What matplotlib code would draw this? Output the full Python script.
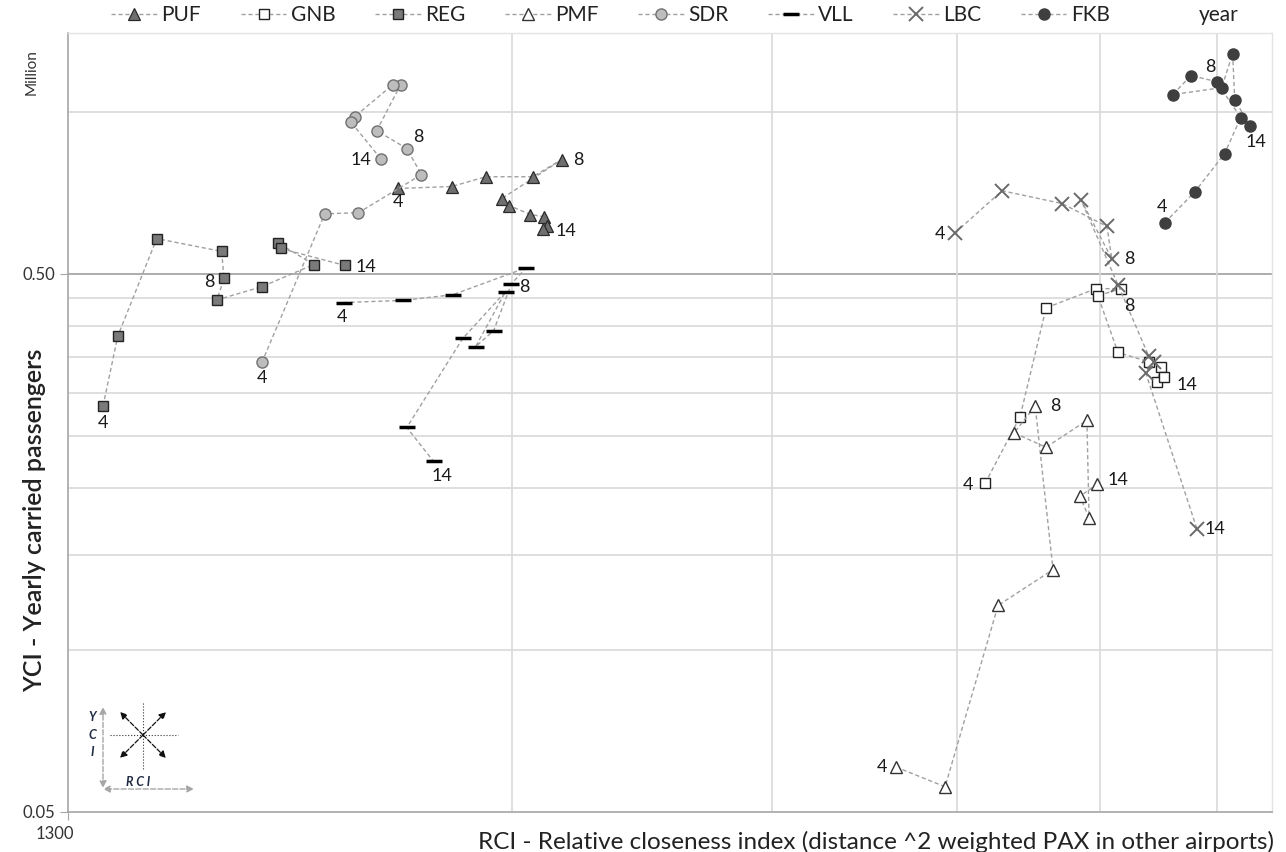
import numpy as np
import matplotlib.pyplot as plt
from matplotlib.ticker import FixedLocator, NullFormatter

plt.rcParams['font.family'] = ['Lato', 'DejaVu Sans']

years = list(range(4, 15))

# RCI (x) and YCI (million passengers, y) per airport, years 4..14
puf_x = [2174, 2365, 2494, 2683, 2807, 2556, 2588, 2674, 2733, 2746, 2725]
puf_y = [0.720, 0.726, 0.757, 0.757, 0.814, 0.689, 0.669, 0.644, 0.638, 0.614, 0.606]

gnb_x = [5434, 5738, 5976, 6459, 6716, 6479, 6685, 7015, 7147, 7103, 7180]
gnb_y = [0.204, 0.271, 0.432, 0.469, 0.469, 0.455, 0.357, 0.343, 0.336, 0.314, 0.322]

reg_x = [1373, 1405, 1493, 1652, 1658, 1640, 1759, 1907, 1803, 1811, 2002]
reg_y = [0.284, 0.383, 0.581, 0.550, 0.490, 0.447, 0.473, 0.520, 0.571, 0.557, 0.518]

pmf_x = [4729, 5105, 5545, 6041, 5875, 5685, 5976, 6369, 6390, 6300, 6470]
pmf_y = [0.0606, 0.0557, 0.121, 0.141, 0.284, 0.253, 0.238, 0.267, 0.176, 0.193, 0.203]

sdr_x = [1759, 1940, 2045, 2256, 2205, 2104, 2184, 2158, 2033, 2020, 2117]
sdr_y = [0.342, 0.646, 0.649, 0.764, 0.854, 0.922, 1.123, 1.123, 0.979, 0.958, 0.818]

vll_x = [1998, 2191, 2369, 2657, 2596, 2525, 2455, 2572, 2406, 2205, 2299]
vll_y = [0.442, 0.446, 0.457, 0.513, 0.479, 0.392, 0.366, 0.463, 0.379, 0.259, 0.224]

lbc_x = [5186, 5580, 6126, 6571, 6621, 6310, 6685, 7015, 7069, 6981, 7560]
lbc_y = [0.596, 0.713, 0.675, 0.612, 0.533, 0.686, 0.477, 0.351, 0.342, 0.327, 0.168]

fkb_x = [7192, 7537, 7895, 8095, 7797, 7491, 7282, 7859, 7994, 8020, 8209]
fkb_y = [0.622, 0.710, 0.836, 0.975, 1.137, 1.167, 1.076, 1.108, 1.282, 1.053, 0.942]

series = [
    ('PUF', puf_x, puf_y, dict(marker='^', ms=8, mfc='#6f6f6f', mec='#2a2a2a', mew=0.9)),
    ('GNB', gnb_x, gnb_y, dict(marker='s', ms=7.5, mfc='white', mec='#222222', mew=1.0)),
    ('REG', reg_x, reg_y, dict(marker='s', ms=7.5, mfc='#7a7a7a', mec='#222222', mew=1.0)),
    ('PMF', pmf_x, pmf_y, dict(marker='^', ms=8, mfc='white', mec='#333333', mew=1.0)),
    ('SDR', sdr_x, sdr_y, dict(marker='o', ms=8, mfc='#bdbdbd', mec='#707070', mew=1.0)),
    ('VLL', vll_x, vll_y, dict(marker='_', ms=11, mfc='black', mec='black', mew=2.5)),
    ('LBC', lbc_x, lbc_y, dict(marker='x', ms=10, mfc='#7a7a7a', mec='#6a6a6a', mew=1.4)),
    ('FKB', fkb_x, fkb_y, dict(marker='o', ms=8, mfc='#3f3f3f', mec='#3f3f3f', mew=1.0)),
]

# year label offsets (pixels) for years 4, 8, 14
label_offsets = {
    'PUF': [(0, -14), (17, 0), (23, -2)],
    'GNB': [(-17, -2), (8, -17), (23, -8)],
    'REG': [(0, -17), (-15, -4), (21, -2)],
    'PMF': [(-14, 0), (20, 0), (21, 4)],
    'SDR': [(0, -16), (12, 12), (-20, -1)],
    'VLL': [(-2, -14), (13, -3), (8, -15)],
    'LBC': [(-15, -1), (17, 0), (18, 0)],
    'FKB': [(-3, 16), (-6, 15), (6, -16)],
}

fig = plt.figure(figsize=(12.86, 8.52), dpi=100)
ax = fig.add_axes([68 / 1286, 40 / 852, 1204 / 1286, 779 / 852])
ax.set_xscale('log')
ax.set_yscale('log')
ax.set_xlim(1300, 8500)
ax.set_ylim(0.05, 1.4)

handles = []
for name, xs, ys, st in series:
    h, = ax.plot(xs, ys, color='#a0a0a0', lw=1, ls=(0, (3, 2)), label=name, zorder=3, **st)
    handles.append(h)
    for yr, off in zip([4, 8, 14], label_offsets[name]):
        i = years.index(yr)
        ax.annotate(str(yr), (xs[i], ys[i]), xytext=off, textcoords='offset pixels',
                    ha='center', va='center', fontsize=13, color='#1a1a1a', zorder=5)

# year legend entry (no marker)
yh, = ax.plot([], [], ls='none', marker='none', label='year')
handles.append(yh)

# grid
ax.xaxis.set_major_locator(FixedLocator([1300]))
ax.xaxis.set_minor_locator(FixedLocator([2600, 3900, 5200, 6500, 7800]))
ax.yaxis.set_major_locator(FixedLocator([0.05, 0.5]))
ax.yaxis.set_minor_locator(FixedLocator([0.1, 0.15, 0.2, 0.25, 0.3, 0.35, 0.4, 0.45, 1.0]))
ax.xaxis.set_major_formatter(NullFormatter())
ax.xaxis.set_minor_formatter(NullFormatter())
ax.yaxis.set_minor_formatter(NullFormatter())
ax.set_yticklabels(['0.05', '0.50'])
ax.grid(which='minor', color='#d9d9d9', lw=1.2)
ax.axhline(0.5, color='#a6a6a6', lw=1.3, zorder=1)
ax.tick_params(which='minor', length=0)
ax.tick_params(which='major', axis='y', length=6, direction='out', color='#a6a6a6',
               labelsize=12, labelcolor='#333333', pad=3)
ax.tick_params(which='major', axis='x', length=6, direction='out', color='#a6a6a6')
for s in ['top', 'right']:
    ax.spines[s].set_color('#e3e3e3')
    ax.spines[s].set_linewidth(1.0)
for s in ['left', 'bottom']:
    ax.spines[s].set_color('#a6a6a6')
    ax.spines[s].set_linewidth(1.2)

ax.text(-0.011, -0.018, '1300', transform=ax.transAxes, ha='center', va='top',
        fontsize=12, color='#333333')
ax.text(-0.03, 0.95, 'Million', transform=ax.transAxes, rotation=90, ha='center',
        va='center', fontsize=11, color='#333333')
ax.text(-0.028, 0.375, 'YCI - Yearly carried passengers', transform=ax.transAxes,
        rotation=90, ha='center', va='center', fontsize=18, fontweight='semibold',
        color='#222222')
ax.text(1.002, -0.024, 'RCI - Relative closeness index (distance ^2 weighted PAX in other airports)',
        transform=ax.transAxes, ha='right', va='top', fontsize=17.5, color='#222222')

fig.legend(handles=handles, loc='center', bbox_to_anchor=(0.525, 1 - 15 / 852), ncol=9,
           frameon=False, fontsize=15, handlelength=2.2, handletextpad=0.2,
           columnspacing=1.9, labelcolor='#222222')

# small direction sketch in the lower-left corner
ins = fig.add_axes([85 / 1286, 52 / 852, 115 / 1286, 105 / 852])
ins.set_xlim(85, 200)
ins.set_ylim(800, 695)
ins.axis('off')
ins.plot([143, 143], [703, 770], color='#333333', lw=0.8, ls=':')
ins.plot([110, 178], [735, 735], color='#333333', lw=0.8, ls=':')
for dx, dy in [(-23, -23), (23, -23), (-23, 23), (23, 23)]:
    ins.annotate('', xy=(143 + dx, 735 + dy), xytext=(143, 735),
                 arrowprops=dict(arrowstyle='-|>', color='#111111', lw=0.9, ls='--',
                                 mutation_scale=10, shrinkA=0, shrinkB=0))
ins.annotate('', xy=(103, 707), xytext=(103, 788),
             arrowprops=dict(arrowstyle='<|-|>', color='#a6a6a6', lw=1.0, ls='--',
                             mutation_scale=10, shrinkA=0, shrinkB=0))
ins.annotate('', xy=(103, 789), xytext=(194, 789),
             arrowprops=dict(arrowstyle='<|-|>', color='#a6a6a6', lw=1.0, ls='--',
                             mutation_scale=10, shrinkA=0, shrinkB=0))
for t, yy in [('Y', 717), ('C', 735), ('I', 752)]:
    ins.text(92, yy, t, ha='center', va='center', fontsize=9, fontweight='bold',
             style='italic', color='#1f2a44')
ins.text(138, 782, 'R C I', ha='center', va='center', fontsize=9, fontweight='bold',
         style='italic', color='#1f2a44')

fig.savefig('out.png', dpi=100)
